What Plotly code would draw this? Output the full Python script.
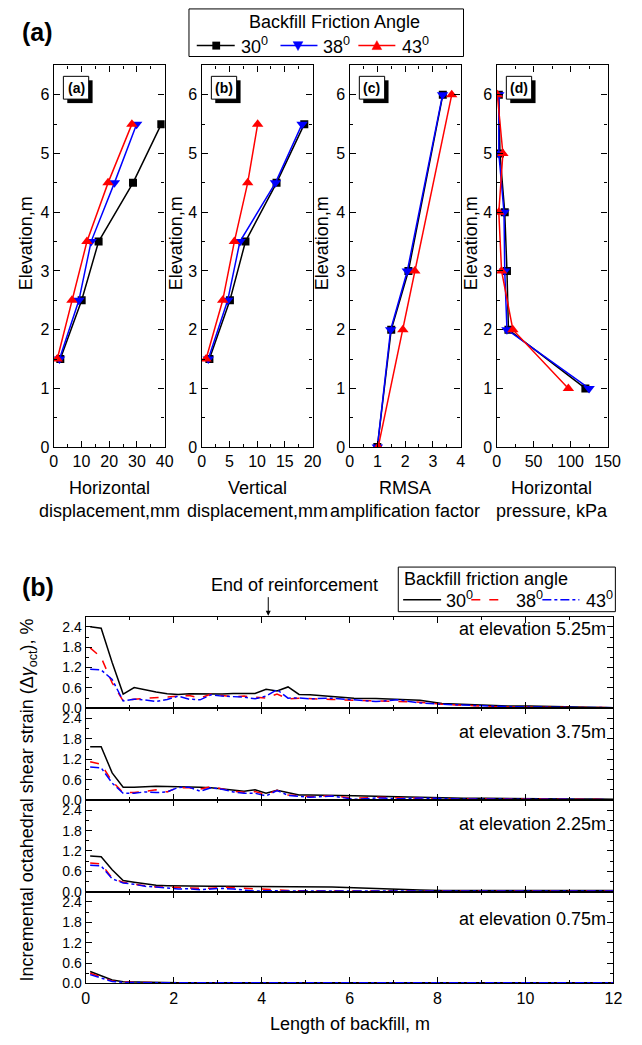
import plotly.graph_objects as go

W, H = 642, 1045
FONT = "Liberation Sans, Arial, sans-serif"


def px(x):
    return x / W


def py(y):
    return 1 - y / H


# ---------------- data: part (a) ----------------
elev_disp = [1.5, 2.5, 3.5, 4.5, 5.5]
hdisp_30 = [2.4, 10.1, 16.2, 28.6, 38.8]
hdisp_38 = [2.1, 9.1, 13.5, 21.9, 29.9]
hdisp_43 = [1.3, 6.6, 12.0, 19.6, 28.2]
vdisp_30 = [1.4, 5.1, 7.9, 13.5, 18.5]
vdisp_38 = [1.2, 4.7, 6.9, 13.3, 18.1]
vdisp_43 = [0.8, 3.8, 5.9, 8.3, 10.1]
elev_rmsa = [0, 2, 3, 6]
rmsa_30 = [1.0, 1.5, 2.12, 3.36]
rmsa_38 = [1.0, 1.48, 2.08, 3.35]
rmsa_43 = [1.03, 1.92, 2.35, 3.68]
elev_press = [1, 2, 3, 4, 5, 6]
press_30 = [120, 16, 14, 11, 4.5, 3]
press_38 = [125, 14, 11, 10, 3, 3]
press_43 = [97, 22, 6.7, 3, 8.5, 1]

angle_names = ["30<sup>0</sup>", "38<sup>0</sup>", "43<sup>0</sup>"]

# ---------------- data: part (b) ----------------
backfill_x = [0.1, 0.35, 0.6, 0.85, 1.1, 1.35, 1.6, 1.85, 2.1, 2.35, 2.6, 2.85,
              3.1, 3.35, 3.6, 3.85, 4.1, 4.35, 4.6, 4.85, 5.1, 5.6, 6.1, 6.6,
              7.1, 7.6, 8.1, 8.6, 9.1, 9.6, 10.1, 10.6, 11.1, 11.6, 12.0]

s525_30 = [2.40, 2.36, 1.35, 0.42, 0.61, 0.54, 0.48, 0.43, 0.41, 0.43, 0.42, 0.41,
           0.42, 0.44, 0.44, 0.44, 0.56, 0.51, 0.63, 0.41, 0.40, 0.36, 0.30, 0.29,
           0.26, 0.24, 0.14, 0.11, 0.09, 0.07, 0.07, 0.06, 0.05, 0.04, 0.02]
s525_38 = [1.78, 1.50, 0.75, 0.22, 0.27, 0.29, 0.30, 0.33, 0.36, 0.38, 0.30, 0.42,
           0.38, 0.34, 0.36, 0.34, 0.30, 0.42, 0.28, 0.30, 0.28, 0.26, 0.24, 0.22,
           0.22, 0.18, 0.12, 0.08, 0.06, 0.04, 0.04, 0.04, 0.03, 0.03, 0.02]
s525_43 = [1.15, 1.13, 0.85, 0.22, 0.27, 0.25, 0.20, 0.26, 0.36, 0.27, 0.25, 0.40,
           0.36, 0.34, 0.33, 0.28, 0.36, 0.55, 0.30, 0.31, 0.28, 0.30, 0.25, 0.20,
           0.25, 0.16, 0.12, 0.09, 0.06, 0.05, 0.04, 0.04, 0.03, 0.03, 0.02]

s375_30 = [1.57, 1.57, 0.80, 0.38, 0.38, 0.40, 0.41, 0.40, 0.40, 0.38, 0.38, 0.36,
           0.33, 0.30, 0.26, 0.30, 0.20, 0.29, 0.22, 0.15, 0.15, 0.15, 0.13, 0.11,
           0.09, 0.08, 0.07, 0.05, 0.05, 0.04, 0.04, 0.03, 0.03, 0.03, 0.02]
s375_38 = [1.13, 1.05, 0.55, 0.22, 0.22, 0.26, 0.30, 0.24, 0.37, 0.36, 0.32, 0.40,
           0.33, 0.26, 0.23, 0.25, 0.16, 0.29, 0.15, 0.12, 0.10, 0.13, 0.05, 0.08,
           0.06, 0.05, 0.04, 0.04, 0.04, 0.03, 0.03, 0.02, 0.02, 0.02, 0.01]
s375_43 = [0.97, 0.95, 0.50, 0.20, 0.20, 0.24, 0.22, 0.24, 0.37, 0.38, 0.26, 0.36,
           0.32, 0.24, 0.20, 0.20, 0.12, 0.28, 0.14, 0.10, 0.08, 0.12, 0.02, 0.06,
           0.04, 0.06, 0.04, 0.03, 0.03, 0.02, 0.02, 0.02, 0.02, 0.01, 0.01]

s225_30 = [1.05, 1.03, 0.65, 0.33, 0.28, 0.23, 0.19, 0.18, 0.17, 0.16, 0.16, 0.16,
           0.16, 0.16, 0.16, 0.16, 0.16, 0.16, 0.15, 0.15, 0.15, 0.14, 0.12, 0.09,
           0.07, 0.05, 0.04, 0.04, 0.04, 0.04, 0.04, 0.04, 0.04, 0.04, 0.04]
s225_38 = [0.85, 0.82, 0.40, 0.28, 0.22, 0.17, 0.14, 0.14, 0.12, 0.12, 0.10, 0.10,
           0.14, 0.12, 0.10, 0.08, 0.08, 0.06, 0.04, 0.03, 0.02, 0.02, 0.02, 0.02,
           0.02, 0.02, 0.02, 0.02, 0.02, 0.02, 0.02, 0.02, 0.02, 0.02, 0.02]
s225_43 = [0.78, 0.76, 0.38, 0.26, 0.22, 0.16, 0.14, 0.12, 0.08, 0.09, 0.06, 0.08,
           0.10, 0.08, 0.04, 0.02, 0.03, 0.02, 0.02, 0.02, 0.02, 0.02, 0.02, 0.02,
           0.02, 0.02, 0.02, 0.02, 0.02, 0.02, 0.02, 0.02, 0.02, 0.02, 0.02]

s075_30 = [0.35, 0.22, 0.10, 0.05, 0.04, 0.03, 0.02, 0.02, 0.02, 0.02, 0.02, 0.02,
           0.02, 0.02, 0.02, 0.02, 0.02, 0.02, 0.02, 0.02, 0.02, 0.02, 0.02, 0.02,
           0.02, 0.02, 0.02, 0.02, 0.02, 0.02, 0.02, 0.02, 0.02, 0.02, 0.02]
s075_38 = [0.30, 0.18, 0.07, 0.04, 0.03, 0.02, 0.02, 0.02, 0.02, 0.02, 0.02, 0.02,
           0.02, 0.02, 0.02, 0.02, 0.02, 0.02, 0.02, 0.02, 0.02, 0.02, 0.02, 0.02,
           0.02, 0.02, 0.02, 0.02, 0.02, 0.02, 0.02, 0.02, 0.02, 0.02, 0.02]
s075_43 = [0.26, 0.15, 0.06, 0.03, 0.02, 0.02, 0.02, 0.02, 0.02, 0.02, 0.02, 0.02,
           0.02, 0.02, 0.02, 0.02, 0.02, 0.02, 0.02, 0.02, 0.02, 0.02, 0.02, 0.02,
           0.02, 0.02, 0.02, 0.02, 0.02, 0.02, 0.02, 0.02, 0.02, 0.02, 0.02]

elevation_labels = ["at elevation 5.25m", "at elevation 3.75m",
                    "at elevation 2.25m", "at elevation 0.75m"]
strain_sets = [(s525_30, s525_38, s525_43), (s375_30, s375_38, s375_43),
               (s225_30, s225_38, s225_43), (s075_30, s075_38, s075_43)]

reinforcement_end = 4.15

# ---------------- figure ----------------
fig = go.Figure()

top_colors = ["black", "blue", "red"]
top_symbols = ["square", "triangle-down", "triangle-up"]
top_sizes = [8, 10, 10]

top_panels = [
    (elev_disp, [hdisp_30, hdisp_38, hdisp_43]),
    (elev_disp, [vdisp_30, vdisp_38, vdisp_43]),
    (elev_rmsa, [rmsa_30, rmsa_38, rmsa_43]),
    (elev_press, [press_30, press_38, press_43]),
]

for p, (elev, series) in enumerate(top_panels):
    xa = "x" if p == 0 else "x%d" % (p + 1)
    ya = "y" if p == 0 else "y%d" % (p + 1)
    for k, vals in enumerate(series):
        fig.add_trace(go.Scatter(
            x=vals, y=elev, xaxis=xa, yaxis=ya, mode="lines+markers",
            name=angle_names[k], showlegend=False,
            line=dict(color=top_colors[k], width=1.5),
            marker=dict(symbol=top_symbols[k], size=top_sizes[k], color=top_colors[k]),
        ))

bot_colors = ["black", "red", "blue"]
bot_dash = ["solid", "dash", "dashdot"]
for p, sers in enumerate(strain_sets):
    xa = "x%d" % (p + 5)
    ya = "y%d" % (p + 5)
    for k, vals in enumerate(sers):
        fig.add_trace(go.Scatter(
            x=backfill_x, y=vals, xaxis=xa, yaxis=ya, mode="lines",
            name=angle_names[k], showlegend=False,
            line=dict(color=bot_colors[k], width=1.5, dash=bot_dash[k]),
        ))


def axstyle(minor_dtick, **kw):
    d = dict(showline=True, linecolor="black", linewidth=1.3, mirror="allticks",
             ticks="inside", ticklen=6, tickwidth=1.2, tickcolor="black",
             showgrid=False, zeroline=False, fixedrange=True,
             tickfont=dict(size=16, color="black", family=FONT),
             minor=dict(dtick=minor_dtick, ticks="inside", ticklen=3,
                        tickcolor="black", tickwidth=1, showgrid=False))
    d.update(kw)
    return d


layout = dict(
    width=W, height=H, margin=dict(l=0, r=0, t=0, b=0),
    paper_bgcolor="white", plot_bgcolor="white", showlegend=False,
    font=dict(family=FONT, color="black", size=16),
)

top_x = [(51, 165), (203, 317), (355, 469), (506, 620)]
top_y = (66, 451)
x_ranges = [[0, 40], [0, 20], [0, 4], [0, 150]]
x_dticks = [10, 5, 1, 50]
x_minor = [5, 2.5, 0.5, 25]
for p in range(4):
    xk = "xaxis" if p == 0 else "xaxis%d" % (p + 1)
    yk = "yaxis" if p == 0 else "yaxis%d" % (p + 1)
    yname = "y" if p == 0 else "y%d" % (p + 1)
    xname = "x" if p == 0 else "x%d" % (p + 1)
    layout[xk] = axstyle(x_minor[p], domain=[px(top_x[p][0]), px(top_x[p][1])],
                         range=x_ranges[p], dtick=x_dticks[p], tick0=0, anchor=yname)
    layout[yk] = axstyle(0.5, domain=[py(top_y[1]), py(top_y[0])], range=[0, 6.5],
                         dtick=1, tick0=0, anchor=xname)

bot_x = (84, 626)
bot_edges = [622, 714.5, 807, 899.5, 992]
for p in range(4):
    xk = "xaxis%d" % (p + 5)
    yk = "yaxis%d" % (p + 5)
    layout[xk] = axstyle(1, domain=[px(bot_x[0]), px(bot_x[1])], range=[0, 12],
                         dtick=2, tick0=0, anchor="y%d" % (p + 5),
                         showticklabels=(p == 3))
    layout[yk] = axstyle(0.3, domain=[py(bot_edges[p + 1]), py(bot_edges[p])],
                         range=[0, 2.7], tickvals=[0, 0.6, 1.2, 1.8, 2.4],
                         tickformat=".1f", anchor="x%d" % (p + 5),
                         tickfont=dict(size=14, color="black", family=FONT))

annotations = []
shapes = []


def txt(text, x, y, size=18, xanchor="center", yanchor="middle", angle=0, bold=False):
    t = "<b>%s</b>" % text if bold else text
    annotations.append(dict(text=t, x=px(x), y=py(y), xref="paper", yref="paper",
                            showarrow=False, xanchor=xanchor, yanchor=yanchor,
                            textangle=angle,
                            font=dict(size=size, family=FONT, color="black")))


def rect(x0, y0, x1, y1, fill, line_color=None, lw=1):
    shapes.append(dict(type="rect", xref="paper", yref="paper",
                       x0=px(x0), x1=px(x1), y0=py(y1), y1=py(y0),
                       fillcolor=fill,
                       line=dict(color=line_color or fill, width=lw if line_color else 0),
                       layer="above"))


def seg(x0, x1, y, color, dash="solid", width=1.5):
    shapes.append(dict(type="line", xref="paper", yref="paper",
                       x0=px(x0), x1=px(x1), y0=py(y), y1=py(y),
                       line=dict(color=color, width=width, dash=dash), layer="above"))


def poly(points, color):
    path = "M " + " L ".join("%f,%f" % (px(a), py(b)) for a, b in points) + " Z"
    shapes.append(dict(type="path", xref="paper", yref="paper", path=path,
                       fillcolor=color, line=dict(color=color, width=0.5), layer="above"))


# big section labels
txt("(a)", 16, 32, size=25, xanchor="left", bold=True)
txt("(b)", 16, 592, size=25, xanchor="left", bold=True)

# legend for part (a)
rect(190, 9, 472, 57, "white", "black", 1)
txt("Backfill Friction Angle", 339, 22)
leg_y = 46
seg(198, 237, leg_y, "black")
rect(214, leg_y - 4, 222, leg_y + 4, "black")
txt(angle_names[0], 241, leg_y, xanchor="left")
seg(284, 322, leg_y, "blue")
poly([(297, leg_y - 4), (307, leg_y - 4), (302, leg_y + 5)], "blue")
txt(angle_names[1], 326, leg_y, xanchor="left")
seg(364, 402, leg_y, "red")
poly([(378, leg_y + 4), (388, leg_y + 4), (383, leg_y - 5)], "red")
txt(angle_names[2], 407, leg_y, xanchor="left")

# panel tags and axis titles of part (a)
panel_tags = ["(a)", "(b)", "(c)", "(d)"]
ylabel_x = [22, 177, 327, 480]
xtitles = ["Horizontal<br>displacement,mm", "Vertical<br>displacement,mm",
           "RMSA<br>amplification factor", "Horizontal<br>pressure, kPa"]
for p in range(4):
    L = top_x[p][0]
    bx0, by0, bw, bh = L + 10, 77, 26, 23
    rect(bx0 + 4, by0 + 4, bx0 + bw + 4, by0 + bh + 4, "black")
    rect(bx0, by0, bx0 + bw, by0 + bh, "white", "black", 1)
    txt(panel_tags[p], bx0 + bw / 2, by0 + bh / 2, size=14, bold=True)
    txt("Elevation,m", ylabel_x[p], 245, angle=-90)
    txt(xtitles[p], (top_x[p][0] + top_x[p][1]) / 2, 504)

# legend for part (b)
rect(405, 572, 628, 617, "white", "black", 1)
txt("Backfill friction angle", 409, 584, xanchor="left")
lg = 605
seg(410, 449, lg, "black")
txt(angle_names[0], 452, lg, xanchor="left")
seg(480, 515, lg, "red", dash="dash")
txt(angle_names[1], 524, lg, xanchor="left")
seg(553, 591, lg, "blue", dash="dashdot")
txt(angle_names[2], 596, lg, xanchor="left")

# elevation labels in part (b)
label_vals = [2.35, 2.0, 2.0, 1.9]
for p in range(4):
    annotations.append(dict(text=elevation_labels[p], x=px(620), y=label_vals[p],
                            xref="paper", yref="y%d" % (p + 5), showarrow=False,
                            xanchor="right", yanchor="middle",
                            font=dict(size=18, family=FONT, color="black")))

txt("End of reinforcement", 298, 590)
annotations.append(dict(text="", x=reinforcement_end, y=py(621), xref="x5", yref="paper",
                        showarrow=True, ax=0, ay=-20, arrowhead=2, arrowsize=1,
                        arrowwidth=1, arrowcolor="black"))

txt("Incremental octahedral shear strain (\u0394<i>\u03b3</i><sub>oct</sub>), %", 25, 807,
    angle=-90)
txt("Length of backfill, m", 355, 1033)

layout["annotations"] = annotations
layout["shapes"] = shapes
fig.update_layout(**layout)

fig.write_html("out.html")
